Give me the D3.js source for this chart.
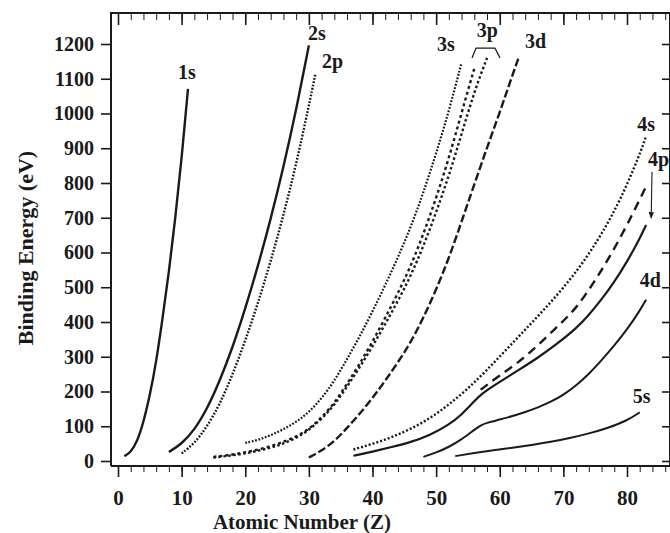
<!DOCTYPE html>
<html>
<head>
<meta charset="utf-8">
<script src="https://d3js.org/d3.v7.min.js"></script>
<style>
  html, body { margin: 0; padding: 0; background: #fff; }
  svg { display: block; }
  text { font-family: "Liberation Serif", "Times New Roman", serif; font-weight: bold; fill: #1a1a1a; }
</style>
</head>
<body>
<svg id="chart" width="670" height="533"></svg>
<script>
// Binding energy (eV) of atomic levels vs atomic number Z
const z1s = [1, 2, 3, 4, 5, 6, 7, 8, 9, 10, 11];
const e1s = [14, 25, 55, 111, 188, 284, 410, 543, 697, 870, 1071];

const z2s = [8, 10, 12, 14, 16, 18, 20, 22, 24, 26, 28, 30];
const e2s = [26, 49, 89, 150, 231, 326, 438, 561, 696, 845, 1009, 1196];

const z2p = [10, 12, 14, 16, 18, 20, 22, 24, 26, 28, 30, 31];
const e2p = [22, 50, 99, 163, 248, 346, 454, 574, 707, 853, 1022, 1112];

const z3s = [20, 22, 24, 26, 28, 30, 32, 34, 36, 38, 40, 42, 44, 46, 48, 50, 52, 54];
const e3s = [52, 60, 74, 91, 112, 140, 180, 230, 293, 359, 430, 506, 586, 672, 772, 885, 1006, 1146];

const z3p1 = [15, 18, 21, 24, 26, 28, 30, 32, 34, 36, 38, 40, 42, 44, 46, 48, 50, 52, 54, 56];
const e3p1 = [12, 18, 28, 42, 55, 70, 91, 125, 166, 222, 280, 343, 412, 483, 560, 653, 756, 871, 1002, 1130];

const z3p3 = [15, 18, 21, 24, 26, 28, 30, 32, 34, 36, 38, 40, 42, 44, 46, 48, 50, 52, 54, 56, 58];
const e3p3 = [10, 16, 25, 38, 50, 66, 89, 121, 161, 214, 270, 330, 394, 461, 532, 618, 715, 820, 941, 1063, 1160];

const z3d = [30, 32, 34, 36, 38, 40, 42, 44, 46, 48, 50, 52, 54, 56, 58, 60, 62, 63];
const e3d = [10, 30, 56, 95, 136, 181, 231, 284, 341, 412, 493, 583, 689, 796, 902, 1003, 1111, 1162];

const z4s = [37, 40, 43, 46, 49, 52, 55, 58, 61, 64, 67, 70, 73, 76, 79, 82, 83];
const e4s = [33, 49, 68, 92, 122, 162, 208, 262, 320, 378, 436, 498, 568, 652, 752, 882, 935];

const z4p3 = [37, 40, 43, 46, 49, 52, 54, 56, 57, 60, 63, 66, 69, 72, 74, 76, 78, 80, 82, 83];
const e4p3 = [15, 27, 40, 54, 74, 104, 133, 172, 192, 228, 262, 297, 337, 381, 420, 465, 515, 573, 640, 679];

const z4p1 = [57, 60, 63, 66, 69, 72, 75, 78, 81, 83];
const e4p1 = [205, 247, 284, 333, 386, 438, 519, 609, 715, 790];

const z4d = [48, 50, 52, 54, 56, 57, 58, 60, 62, 64, 66, 68, 70, 72, 74, 76, 78, 80, 82, 83];
const e4d = [12, 24, 40, 62, 90, 103, 110, 119, 129, 141, 154, 170, 190, 217, 250, 290, 332, 378, 432, 464];

const z5s = [53, 56, 59, 62, 65, 68, 71, 74, 77, 80, 82];
const e5s = [14, 23, 31, 38, 46, 55, 66, 79, 95, 116, 140];

// Tick values
const xTicks = [0, 10, 20, 30, 40, 50, 60, 70, 80];
const xMinor = d3.range(0, 87, 2);
const yTicks = [0, 100, 200, 300, 400, 500, 600, 700, 800, 900, 1000, 1100, 1200];

// Level labels [text, Z, E]
const labels = [
  ['1s', 9.43, 1099], ['2s', 29.86, 1211], ['2p', 32.06, 1131],
  ['3s', 50.14, 1180], ['3p', 56.4, 1220], ['3d', 63.97, 1188],
  ['4s', 81.6, 950], ['4p', 83.3, 849], ['4d', 82.0, 500], ['5s', 80.9, 167]
];

const svg = d3.select('#chart');
const x = d3.scaleLinear().domain([0, 80]).range([118, 627]);
const y = d3.scaleLinear().domain([0, 1200]).range([461, 44]);

const frameL = 111, frameR = 670, frameT = 13, frameB = 466;
const ink = '#1a1a1a';

// Series
const series = [
  { z: z1s, e: e1s, dash: null, w: 2.4 },
  { z: z2s, e: e2s, dash: null, w: 2.4 },
  { z: z2p, e: e2p, dash: '1.8,1.6', w: 2.4 },
  { z: z3s, e: e3s, dash: '1.8,1.6', w: 2.2 },
  { z: z3p1, e: e3p1, dash: '3,3', w: 2.4 },
  { z: z3p3, e: e3p3, dash: '2.5,2.5', w: 2.4 },
  { z: z3d, e: e3d, dash: '8,3', w: 2.4 },
  { z: z4s, e: e4s, dash: '2,2', w: 2.4 },
  { z: z4p1, e: e4p1, dash: '9,6', w: 2.4 },
  { z: z4p3, e: e4p3, dash: null, w: 2.2 },
  { z: z4d, e: e4d, dash: null, w: 2.0 },
  { z: z5s, e: e5s, dash: null, w: 2.0 }
];

const line = d3.line()
  .x(d => x(d[0]))
  .y(d => y(d[1]))
  .curve(d3.curveBasis);

svg.append('g')
  .selectAll('path')
  .data(series)
  .enter()
  .append('path')
  .attr('d', s => line(s.z.map((z, i) => [z, s.e[i]])))
  .attr('fill', 'none')
  .attr('stroke', ink)
  .attr('stroke-width', s => s.w)
  .attr('stroke-dasharray', s => s.dash);

// Frame
svg.append('path')
  .attr('d', `M${frameL},${frameB}V${frameT}H${frameR}V${frameB}H${frameL}`)
  .attr('fill', 'none')
  .attr('stroke', ink)
  .attr('stroke-width', 2);

// Bottom axis: major + minor ticks
const bottomAxis = svg.append('g')
  .attr('transform', `translate(0,${frameB})`)
  .call(d3.axisBottom(x).tickValues(xTicks).tickSize(11).tickFormat(d3.format('d')));
bottomAxis.select('.domain').remove();
bottomAxis.selectAll('line').attr('stroke', ink).attr('stroke-width', 1.6);
bottomAxis.selectAll('text')
  .attr('y', 24)
  .attr('dy', '0.71em')
  .style('font-size', '21px')
  .style('font-family', '"Liberation Serif", serif')
  .style('font-weight', 'bold')
  .attr('fill', ink);

const bottomMinor = svg.append('g')
  .attr('transform', `translate(0,${frameB})`)
  .call(d3.axisBottom(x).tickValues(xMinor).tickSize(6).tickFormat(''));
bottomMinor.select('.domain').remove();
bottomMinor.selectAll('line').attr('stroke', ink).attr('stroke-width', 1);

// Top axis ticks (inward)
const topAxis = svg.append('g')
  .attr('transform', `translate(0,${frameT})`)
  .call(d3.axisBottom(x).tickValues(xTicks).tickSize(12).tickFormat(''));
topAxis.select('.domain').remove();
topAxis.selectAll('line').attr('stroke', ink).attr('stroke-width', 1.6);

const topMinor = svg.append('g')
  .attr('transform', `translate(0,${frameT})`)
  .call(d3.axisBottom(x).tickValues(xMinor).tickSize(7).tickFormat(''));
topMinor.select('.domain').remove();
topMinor.selectAll('line').attr('stroke', ink).attr('stroke-width', 1);

// Left axis
const leftAxis = svg.append('g')
  .attr('transform', `translate(${frameL},0)`)
  .call(d3.axisLeft(y).tickValues(yTicks).tickSize(10).tickPadding(7).tickFormat(d3.format('d')));
leftAxis.select('.domain').remove();
leftAxis.selectAll('line').attr('stroke', ink).attr('stroke-width', 1.6);
leftAxis.selectAll('text')
  .style('font-size', '20px')
  .style('font-family', '"Liberation Serif", serif')
  .style('font-weight', 'bold')
  .attr('fill', ink);

// Right axis ticks (inward)
const rightAxis = svg.append('g')
  .attr('transform', `translate(${frameR},0)`)
  .call(d3.axisLeft(y).tickValues(yTicks).tickSize(8).tickFormat(''));
rightAxis.select('.domain').remove();
rightAxis.selectAll('line').attr('stroke', ink).attr('stroke-width', 1.6);

// Axis titles
svg.append('text')
  .attr('x', 302)
  .attr('y', 529)
  .attr('text-anchor', 'middle')
  .style('font-size', '21px')
  .text('Atomic Number (Z)');

svg.append('text')
  .attr('transform', 'translate(33,248) rotate(-90)')
  .attr('text-anchor', 'middle')
  .style('font-size', '22px')
  .text('Binding Energy (eV)');

// Level labels
svg.append('g')
  .selectAll('text')
  .data(labels)
  .enter()
  .append('text')
  .attr('x', d => x(d[1]))
  .attr('y', d => y(d[2]))
  .style('font-size', '20px')
  .text(d => d[0]);

// Bracket over the two 3p lines
const bracket = [[55.64, 1160], [56.27, 1188], [59.25, 1188], [60.04, 1160]];
svg.append('path')
  .attr('d', d3.line().x(d => x(d[0])).y(d => y(d[1]))(bracket))
  .attr('fill', 'none')
  .attr('stroke', ink)
  .attr('stroke-width', 1.2);

// Arrow from the 4p label down to the 4p lines
svg.append('defs').append('marker')
  .attr('id', 'arrow')
  .attr('viewBox', '0 0 10 10')
  .attr('refX', 9).attr('refY', 5)
  .attr('markerWidth', 6).attr('markerHeight', 6)
  .attr('orient', 'auto')
  .append('path')
  .attr('d', 'M0,1L10,5L0,9Z')
  .attr('fill', ink);

svg.append('line')
  .attr('x1', x(83.93)).attr('y1', y(832))
  .attr('x2', x(83.8)).attr('y2', y(699))
  .attr('stroke', ink)
  .attr('stroke-width', 1.1)
  .attr('marker-end', 'url(#arrow)');
</script>
</body>
</html>
